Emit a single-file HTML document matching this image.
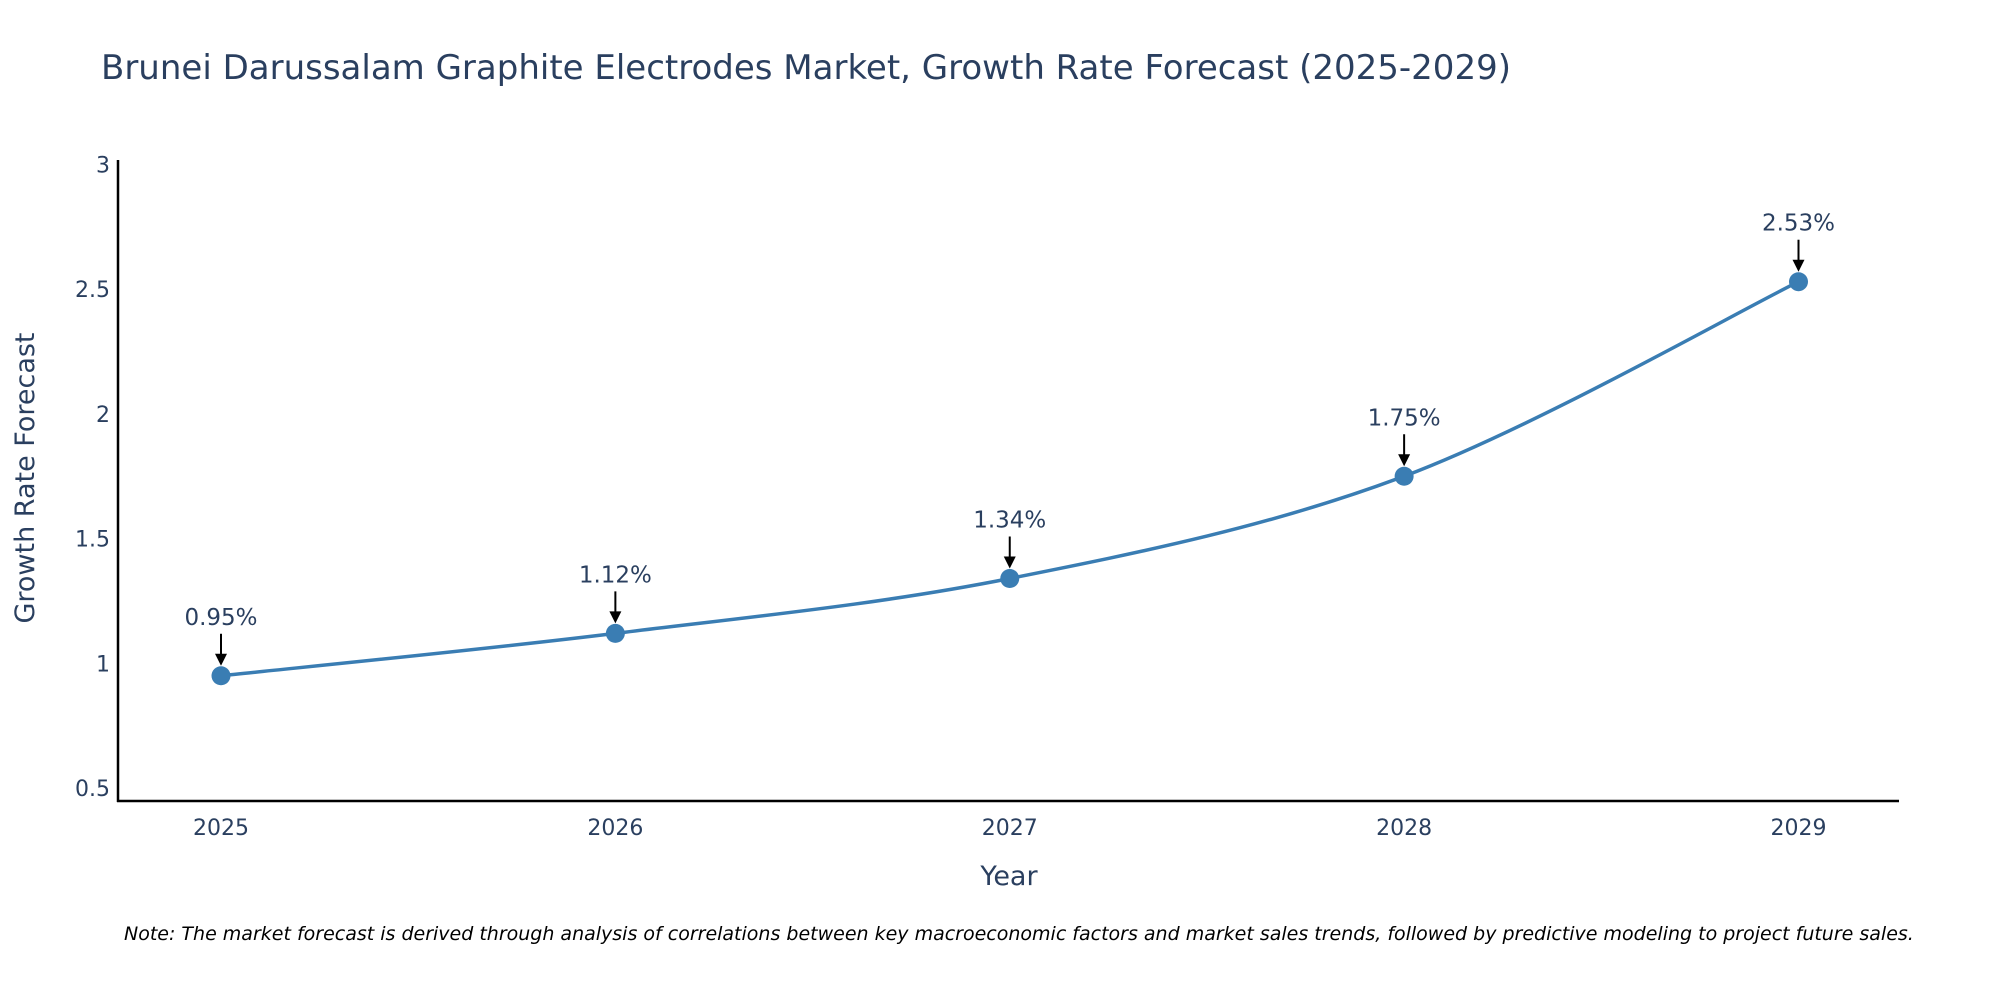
<!DOCTYPE html>
<html><head><meta charset="utf-8">
<style>
body{margin:0;background:#fff;}
svg{display:block;font-family:"DejaVu Sans","Liberation Sans",sans-serif;}
</style></head>
<body>
<svg id="chart" width="2000" height="1000" viewBox="0 0 2000 1000" xmlns="http://www.w3.org/2000/svg">
<rect width="2000" height="1000" fill="#fff"/>
<text x="101" y="79" font-size="34" fill="#2a3f5f">Brunei Darussalam Graphite Electrodes Market, Growth Rate Forecast (2025-2029)</text>
<g id="yticks"></g><g id="xticks"></g>
<line x1="118" y1="160" x2="118" y2="802" stroke="#000" stroke-width="2.5"/>
<line x1="117" y1="801" x2="1899" y2="801" stroke="#000" stroke-width="2.5"/>
<text x="1009" y="885" font-size="27" fill="#2a3f5f" text-anchor="middle">Year</text>
<text transform="translate(34,478) rotate(-90)" font-size="27" fill="#2a3f5f" text-anchor="middle">Growth Rate Forecast</text>
<path id="line" fill="none" stroke="#3a7db3" stroke-width="3.5"/>
<g id="marks"></g>
<text x="124" y="940" font-size="19" font-style="italic" fill="#000">Note: The market forecast is derived through analysis of correlations between key macroeconomic factors and market sales trends, followed by predictive modeling to project future sales.</text>
</svg>
<script>
const years=[2025,2026,2027,2028,2029];
const values=[0.95,1.12,1.34,1.75,2.53];
const labels=["0.95%","1.12%","1.34%","1.75%","2.53%"];
const yTicks=[0.5,1,1.5,2,2.5,3];
const yTickLabels=["0.5","1","1.5","2","2.5","3"];
const NS="http://www.w3.org/2000/svg";
function xs(v){return 221+(v-2025)*(1798.5-221)/4;}
function ys(v){return 788-(v-0.5)*249.4;}
function mk(t,a,p){const e=document.createElementNS(NS,t);for(const k in a)e.setAttribute(k,a[k]);p.appendChild(e);return e;}
const yt=document.getElementById('yticks');
yTicks.forEach((t,i)=>{const e=mk('text',{x:110,y:ys(t)+8,'font-size':22,fill:'#2a3f5f','text-anchor':'end'},yt);


e.textContent=yTickLabels[i];});
const xt=document.getElementById('xticks');
years.forEach(y=>{const e=mk('text',{x:xs(y),y:835,'font-size':22,fill:'#2a3f5f','text-anchor':'middle'},xt);


e.textContent=y;});
const P=years.map((y,i)=>[xs(y),ys(values[i])]);
let d=`M${P[0][0]},${P[0][1]}`;
for(let i=0;i<P.length-1;i++){const p0=P[Math.max(i-1,0)],p1=P[i],p2=P[i+1],p3=P[Math.min(i+2,P.length-1)];const k=6;
d+=` C${p1[0]+(p2[0]-p0[0])/k},${p1[1]+(p2[1]-p0[1])/k} ${p2[0]-(p3[0]-p1[0])/k},${p2[1]-(p3[1]-p1[1])/k} ${p2[0]},${p2[1]}`;}
document.getElementById('line').setAttribute('d',d);
const g=document.getElementById('marks');
P.forEach((p,i)=>{
const c=mk('circle',{cx:p[0],cy:p[1],r:9.5,fill:'#3a7db3'},g);


const l=mk('line',{x1:p[0],y1:p[1]-42,x2:p[0],y2:p[1]-20,stroke:'#000','stroke-width':2},g);


const a=mk('polygon',{points:`${p[0]-6},${p[1]-22} ${p[0]+6},${p[1]-22} ${p[0]},${p[1]-10}`,fill:'#000'},g);


const t=mk('text',{x:p[0],y:p[1]-51,'font-size':23,fill:'#2a3f5f','text-anchor':'middle'},g);


t.textContent=labels[i];});
</script>
</body></html>
